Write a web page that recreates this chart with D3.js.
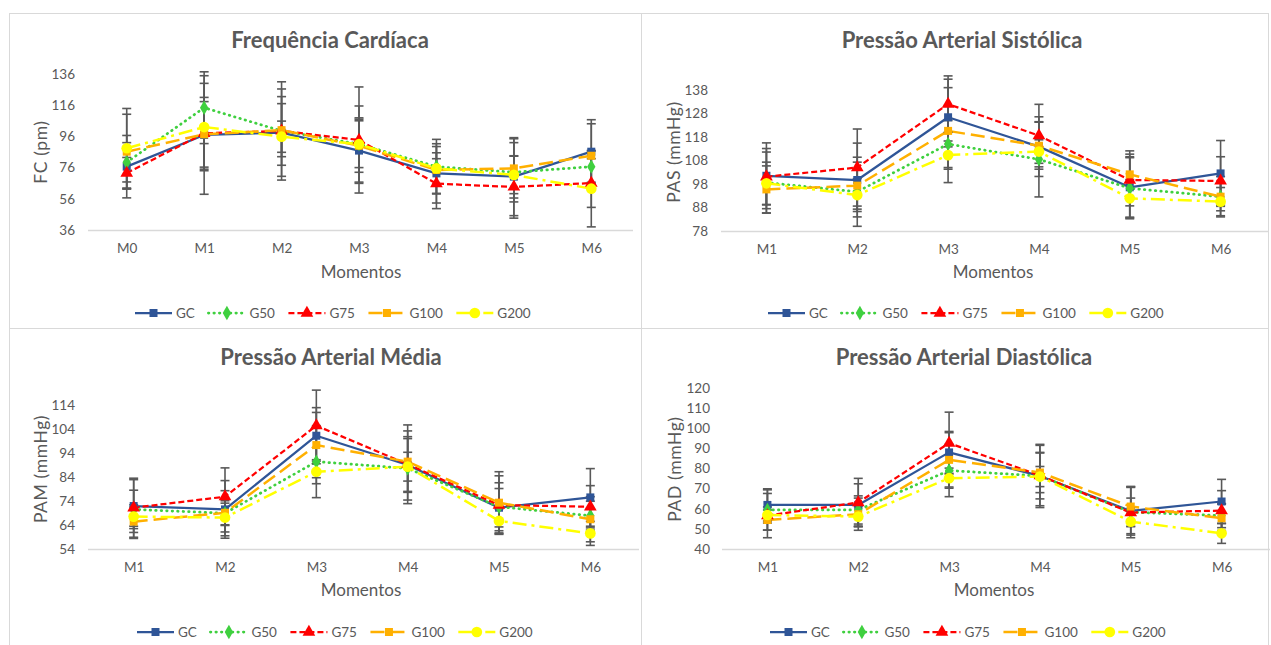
<!DOCTYPE html>
<html>
<head>
<meta charset="utf-8">
<script src="https://cdn.jsdelivr.net/npm/d3@7"></script>
<style>
  body { margin: 0; background: #fff; }
  text { font-family: Lato, "Open Sans", sans-serif; fill: #595959; }
</style>
</head>
<body>
<svg id="chart"></svg>
<script>
// ---- data ----
const groups = ["GC", "G50", "G75", "G100", "G200"];
const fcMoments = ["M0", "M1", "M2", "M3", "M4", "M5", "M6"];
const paMoments = ["M1", "M2", "M3", "M4", "M5", "M6"];

const fcTicks = [36, 56, 76, 96, 116, 136];
const pasTicks = [78, 88, 98, 108, 118, 128, 138];
const pamTicks = [54, 64, 74, 84, 94, 104, 114];
const padTicks = [40, 50, 60, 70, 80, 90, 100, 110, 120];

// means, one row per group (GC, G50, G75, G100, G200)
const fcMean = [
  [76.6, 96.9, 98.4, 86.9, 72.3, 70.2, 86.2],
  [79.4, 114.4, 99.5, 91.1, 76.6, 73.0, 76.6],
  [72.5, 98.0, 99.5, 93.7, 65.7, 63.6, 66.1],
  [86.2, 97.3, 100.0, 90.0, 74.5, 75.5, 83.6],
  [88.4, 102.0, 95.8, 91.0, 75.5, 71.3, 62.5]
];
const fcSD = [
  [20.0, 38.0, 28.0, 21.0, 19.0, 25.0, 20.5],
  [12.6, 23.0, 31.5, 24.4, 17.5, 19.0, 10.0],
  [10.0, 23.0, 22.0, 34.0, 16.0, 20.0, 15.6],
  [24.0, 21.0, 17.0, 17.0, 15.0, 19.0, 20.5],
  [25.5, 28.0, 10.0, 15.0, 10.0, 12.0, 24.5]
];

const pasMean = [
  [101.5, 99.7, 126.4, 113.9, 96.6, 102.5],
  [98.6, 94.7, 115.0, 108.5, 96.2, 92.6],
  [101.1, 105.0, 132.0, 118.6, 99.7, 99.3],
  [95.7, 97.3, 120.6, 114.3, 102.1, 92.6],
  [98.3, 93.3, 110.3, 111.8, 91.9, 90.5]
];
const pasSD = [
  [14.0, 15.7, 12.6, 12.7, 13.0, 14.0],
  [13.0, 14.7, 10.0, 16.0, 13.0, 8.6],
  [12.0, 16.4, 12.0, 13.3, 11.0, 10.3],
  [10.0, 10.0, 22.0, 10.0, 10.0, 6.0],
  [9.0, 7.0, 6.0, 5.0, 8.0, 6.0]
];

const pamMean = [
  [71.9, 70.5, 101.2, 89.0, 71.2, 75.5],
  [70.5, 68.9, 90.4, 87.6, 71.6, 67.9],
  [71.2, 75.8, 105.4, 89.3, 72.3, 71.6],
  [65.4, 69.1, 97.3, 90.4, 73.3, 66.4],
  [67.5, 67.1, 86.2, 88.3, 65.7, 60.5]
];
const pamSD = [
  [11.0, 12.0, 11.7, 11.0, 8.0, 12.0],
  [8.0, 9.4, 15.0, 13.2, 10.0, 6.0],
  [12.3, 12.0, 14.8, 16.4, 12.2, 8.8],
  [7.0, 5.0, 13.6, 12.8, 12.9, 9.4],
  [4.0, 6.0, 5.0, 6.0, 5.0, 5.0]
];

const padMean = [
  [61.9, 61.9, 88.0, 76.3, 58.9, 63.6],
  [59.4, 59.4, 79.0, 76.3, 58.3, 56.6],
  [56.6, 63.1, 92.6, 76.5, 58.1, 59.1],
  [54.4, 57.3, 84.3, 78.0, 61.1, 55.3],
  [56.9, 56.1, 75.2, 76.0, 53.6, 47.8]
];
const padSD = [
  [8.0, 10.5, 10.4, 11.4, 12.0, 11.0],
  [10.0, 7.0, 13.0, 15.7, 7.0, 6.0],
  [11.0, 12.0, 15.4, 15.0, 12.5, 9.9],
  [5.0, 8.0, 13.5, 10.0, 10.0, 7.0],
  [4.0, 5.0, 5.0, 5.0, 6.0, 5.0]
];

// ---- styles ----
const colors = ["#2F5597", "#3FD03F", "#FF0000", "#FFB000", "#FFFF00"];
const dashes = [null, "0.5 5", "6 3", "14 6", "14 5 3 5"];
const widths = [2.25, 2.75, 2.25, 2.5, 2.5];
const shapes = [d3.symbolSquare, d3.symbolDiamond, d3.symbolTriangle, d3.symbolSquare, d3.symbolCircle];
const shapeSize = [64, 60, 70, 64, 90];

const W = 1271, H = 645;
const svg = d3.select("#chart").attr("width", W).attr("height", H);
svg.append("rect").attr("width", W).attr("height", H).attr("fill", "#fff");

const panels = [
  { title: "Frequência Cardíaca", ylab: "FC (pm)", cats: fcMoments, mean: fcMean, sd: fcSD, ticks: fcTicks,
    box: [9, 13, 641, 328], xr: [88, 630], yr: [230, 74], tx: 330, ty: 40, mx: 361, my: 272, lx: 41, ly: 152, tickX: 75, legX: 135, legY: 313 },
  { title: "Pressão Arterial Sistólica", ylab: "PAS (mmHg)", cats: paMoments, mean: pasMean, sd: pasSD, ticks: pasTicks,
    box: [641, 13, 1268, 328], xr: [721, 1266], yr: [231, 90], tx: 962, ty: 40, mx: 993, my: 272, lx: 674, ly: 152, tickX: 708, legX: 768, legY: 313 },
  { title: "Pressão Arterial Média", ylab: "PAM (mmHg)", cats: paMoments, mean: pamMean, sd: pamSD, ticks: pamTicks,
    box: [9, 328, 641, 650], xr: [88, 636], yr: [549, 405], tx: 331, ty: 357, mx: 361, my: 590, lx: 41, ly: 469, tickX: 75, legX: 137, legY: 632 },
  { title: "Pressão Arterial Diastólica", ylab: "PAD (mmHg)", cats: paMoments, mean: padMean, sd: padSD, ticks: padTicks,
    box: [641, 328, 1268, 650], xr: [722, 1267], yr: [549, 388], tx: 964, ty: 357, mx: 994, my: 590, lx: 675, ly: 469, tickX: 710, legX: 770, legY: 632 }
];

function marker(sel, i) {
  sel.append("path")
    .attr("d", d3.symbol().type(shapes[i]).size(shapeSize[i]))
    .attr("fill", colors[i]);
}

panels.forEach(p => {
  const g = svg.append("g");
  const [x0, y0, x1, y1] = p.box;
  g.append("rect").attr("x", x0 + 0.5).attr("y", y0 + 0.5)
    .attr("width", x1 - x0).attr("height", y1 - y0)
    .attr("fill", "none").attr("stroke", "#D9D9D9");

  const x = d3.scalePoint().domain(p.cats).range(p.xr).padding(0.5);
  const y = d3.scaleLinear().domain(d3.extent(p.ticks)).range(p.yr);

  // title
  g.append("text").attr("x", p.tx).attr("y", p.ty).attr("dy", "0.35em")
    .attr("text-anchor", "middle").style("font-size", "22px").style("font-weight", "bold")
    .text(p.title);

  // y axis tick labels (no axis line)
  const yAxis = d3.axisLeft(y).tickValues(p.ticks).tickSize(0).tickPadding(0);
  const ya = g.append("g").attr("transform", `translate(${p.tickX},0)`).call(yAxis);
  ya.select(".domain").remove();
  ya.selectAll("text").style("font-size", "13.5px").attr("fill", "#595959");

  // x axis baseline + labels
  g.append("line").attr("x1", p.xr[0]).attr("x2", p.xr[1] + 3)
    .attr("y1", y(p.ticks[0]) + 0.5).attr("y2", y(p.ticks[0]) + 0.5)
    .attr("stroke", "#D9D9D9").attr("stroke-width", 1.3);
  const xAxis = d3.axisBottom(x).tickSize(0).tickPadding(13);
  const xa = g.append("g").attr("transform", `translate(0,${y(p.ticks[0])})`).call(xAxis);
  xa.select(".domain").remove();
  xa.selectAll("text").style("font-size", "13.5px").attr("fill", "#595959");

  // axis titles
  g.append("text").attr("x", p.mx).attr("y", p.my).attr("dy", "0.35em")
    .attr("text-anchor", "middle").style("font-size", "17px").text("Momentos");
  g.append("text").attr("transform", `translate(${p.lx},${p.ly}) rotate(-90)`).attr("dy", "0.35em")
    .attr("text-anchor", "middle").style("font-size", "17.5px").style("letter-spacing", "0.6px").text(p.ylab);

  // series lines
  const line = d3.line().x((d, j) => x(p.cats[j])).y(d => y(d));
  groups.forEach((grp, i) => {
    g.append("path").datum(p.mean[i]).attr("d", line)
      .attr("fill", "none").attr("stroke", colors[i]).attr("stroke-width", widths[i])
      .attr("stroke-dasharray", dashes[i]).attr("stroke-linecap", i === 1 ? "round" : "butt")
      .attr("stroke-linejoin", "round");
  });

  // error bars
  groups.forEach((grp, i) => {
    p.mean[i].forEach((m, j) => {
      const cx = x(p.cats[j]);
      const hi = y(m + p.sd[i][j]), lo = y(m - p.sd[i][j]);
      const eb = g.append("g").attr("stroke", "#595959").attr("stroke-width", 1.6);
      eb.append("line").attr("x1", cx).attr("x2", cx).attr("y1", hi).attr("y2", lo);
      eb.append("line").attr("x1", cx - 4.5).attr("x2", cx + 4.5).attr("y1", hi).attr("y2", hi);
      eb.append("line").attr("x1", cx - 4.5).attr("x2", cx + 4.5).attr("y1", lo).attr("y2", lo);
    });
  });

  // markers
  groups.forEach((grp, i) => {
    p.mean[i].forEach((m, j) => {
      g.append("g").attr("transform", `translate(${x(p.cats[j])},${y(m)})`).call(marker, i);
    });
  });

  // legend
  let cx = p.legX;
  groups.forEach((grp, i) => {
    const lg = g.append("g").attr("transform", `translate(${cx},${p.legY})`);
    lg.append("line").attr("x1", 0).attr("x2", 37).attr("y1", 0).attr("y2", 0)
      .attr("stroke", colors[i]).attr("stroke-width", widths[i])
      .attr("stroke-dasharray", dashes[i]).attr("stroke-linecap", i === 1 ? "round" : "butt");
    lg.append("g").attr("transform", "translate(18.5,0)").call(marker, i);
    const t = lg.append("text").attr("x", 41).attr("dy", "0.35em")
      .style("font-size", "13.5px").text(grp);
    cx += 42 + t.node().getComputedTextLength() + 12.5;
  });
});
</script>
</body>
</html>
